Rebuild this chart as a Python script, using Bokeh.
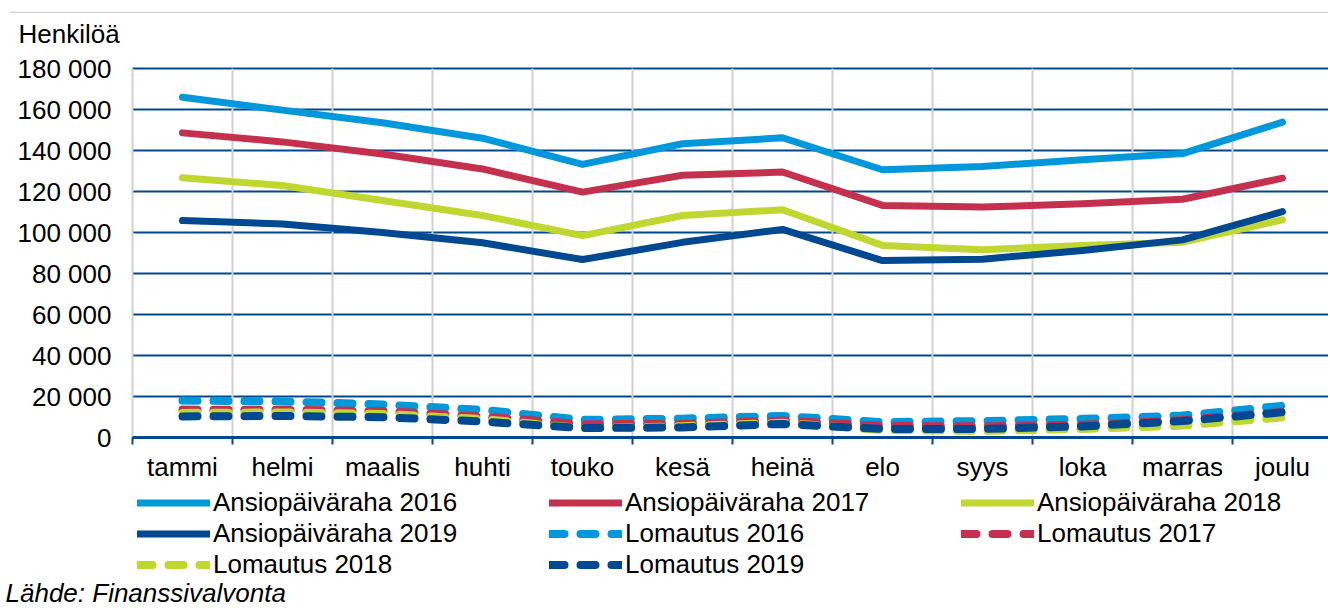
from bokeh.plotting import figure
from bokeh.models import Range1d, FixedTicker, Legend, LegendItem, Label, BoxAnnotation, Grid
from bokeh.embed import file_html
from bokeh.resources import INLINE

months = ["tammi", "helmi", "maalis", "huhti", "touko", "kesä",
          "heinä", "elo", "syys", "loka", "marras", "joulu"]

ansio_2016 = [166000, 159700, 153500, 146000, 133200, 143300, 146200, 130600, 132200, 135500, 138500, 153800]
ansio_2017 = [148600, 144200, 138300, 131000, 119700, 127900, 129500, 113200, 112400, 114000, 116200, 126500]
ansio_2018 = [126700, 122900, 115600, 108300, 98500, 108300, 111100, 93700, 91600, 93700, 95300, 106200]
ansio_2019 = [105800, 104200, 100000, 95000, 86800, 95200, 101500, 86300, 87000, 91200, 96400, 110200]
loma_2016 = [18000, 17600, 16100, 13500, 8600, 9200, 10500, 7500, 8000, 9100, 10700, 15500]
loma_2017 = [13600, 13500, 12900, 10200, 6500, 6600, 8300, 5600, 5500, 6200, 8500, 12500]
loma_2018 = [12000, 12200, 11500, 9000, 4500, 5500, 7200, 3600, 3200, 4200, 5800, 9800]
loma_2019 = [10300, 10500, 9900, 7800, 4600, 4900, 6600, 4200, 4200, 5400, 8000, 12300]

y_ticks = [0, 20000, 40000, 60000, 80000, 100000, 120000, 140000, 160000, 180000]

series = [
    ("Ansiopäiväraha 2016", ansio_2016, "#0098DB", "solid"),
    ("Ansiopäiväraha 2017", ansio_2017, "#C4314F", "solid"),
    ("Ansiopäiväraha 2018", ansio_2018, "#BFD730", "solid"),
    ("Ansiopäiväraha 2019", ansio_2019, "#00488F", "solid"),
    ("Lomautus 2016", loma_2016, "#0098DB", "dashed"),
    ("Lomautus 2017", loma_2017, "#C4314F", "dashed"),
    ("Lomautus 2018", loma_2018, "#BFD730", "dashed"),
    ("Lomautus 2019", loma_2019, "#00488F", "dashed"),
]

FONT = "Liberation Sans"
FS = "26px"
GRID_BLUE = "#00478F"

W, H = 1328, 608
PX = 20000 / 41          # data units per pixel on y
x0 = -1.32               # 100 px per category
y_top = 180000 + 68 * PX
y_bot = -(H - 437) * PX

p = figure(width=W, height=H, min_border=0,
           x_range=Range1d(x0, x0 + W / 100), y_range=Range1d(y_bot, y_top),
           output_backend="svg", toolbar_location=None)
p.outline_line_color = None
p.background_fill_color = "white"
p.border_fill_color = "white"

centers = [i + 0.5 for i in range(len(months))]
n = len(months)

# x axis drawn at y = 0
p.xaxis.fixed_location = 0
p.xaxis.bounds = (0, n)
p.xaxis.ticker = FixedTicker(ticks=centers, minor_ticks=list(range(n + 1)))
p.xaxis.major_label_overrides = {c: m for c, m in zip(centers, months)}
p.xaxis.major_tick_line_color = None
p.xaxis.major_tick_out = 0
p.xaxis.major_tick_in = 0
p.xaxis.minor_tick_line_color = GRID_BLUE
p.xaxis.minor_tick_line_width = 2
p.xaxis.minor_tick_out = 7
p.xaxis.minor_tick_in = 0
p.xaxis.axis_line_color = GRID_BLUE
p.xaxis.axis_line_width = 3
p.xaxis.major_label_standoff = 7
p.xaxis.major_label_text_font = FONT
p.xaxis.major_label_text_font_size = FS
p.xaxis.major_label_text_color = "black"

# y axis drawn at x = 0
p.yaxis.fixed_location = 0
p.yaxis.bounds = (0, 180000)
p.yaxis.ticker = FixedTicker(ticks=y_ticks)
p.yaxis.major_label_overrides = {v: f"{v:,}".replace(",", " ") for v in y_ticks}
p.yaxis.axis_line_color = None
p.yaxis.major_tick_line_color = None
p.yaxis.minor_tick_line_color = None
p.yaxis.major_tick_out = 0
p.yaxis.major_label_standoff = 21
p.yaxis.major_label_text_font = FONT
p.yaxis.major_label_text_font_size = FS
p.yaxis.major_label_text_color = "black"

# grids
p.xgrid.ticker = FixedTicker(ticks=list(range(n + 1)))
p.xgrid.cross_bounds = (0, 180000)
p.xgrid.grid_line_color = "#D0D0D0"
p.xgrid.grid_line_width = 2
p.ygrid.ticker = FixedTicker(ticks=y_ticks)
p.ygrid.cross_bounds = (0, n)
p.ygrid.grid_line_color = GRID_BLUE
p.ygrid.grid_line_width = 2
# vertical (gray) grid drawn over the horizontal (blue) grid
others = [r for r in p.center if not isinstance(r, Grid)]
p.center = [p.ygrid[0], p.xgrid[0]] + others

renderers = {}
for name, vals, color, style in series:
    if style == "solid":
        r = p.line(centers, vals, line_color=color, line_width=7, line_join="round", line_cap="round")
    else:
        r = p.line(centers, vals, line_color=color, line_width=8, line_dash="15 16",
                   line_join="round", line_cap="round")
    renderers[name] = r

items = [LegendItem(label=name, renderers=[renderers[name]]) for name, _, _, _ in series]
legend = Legend(items=items, orientation="horizontal", ncols=3,
                location=(137, H - 579.5),
                glyph_width=73, glyph_height=29, label_height=29, label_width=336,
                label_standoff=3, spacing=0, padding=0, margin=0,
                border_line_color=None, background_fill_alpha=0,
                label_text_font=FONT, label_text_font_size=FS, label_text_color="black",
                label_text_baseline="middle", label_text_line_height=1.0)
p.add_layout(legend)

p.add_layout(Label(x=x0 + 0.18, y=180000 + (68 - 33) * PX, text="Henkilöä",
                   text_font=FONT, text_font_size=FS, text_color="black",
                   text_baseline="middle", text_align="left"))
p.add_layout(Label(x=x0 + 0.05, y=-(592 - 437) * PX, text="Lähde: Finanssivalvonta",
                   text_font=FONT, text_font_size=FS, text_font_style="italic",
                   text_color="black", text_baseline="middle", text_align="left"))
p.add_layout(BoxAnnotation(left=x0 + 0.09, right=x0 + W / 100,
                           top=180000 + 56.8 * PX, bottom=180000 + 55.4 * PX,
                           fill_color="#D0D0D0", fill_alpha=1, line_color=None))

open("out.html", "w").write(file_html(p, INLINE))
